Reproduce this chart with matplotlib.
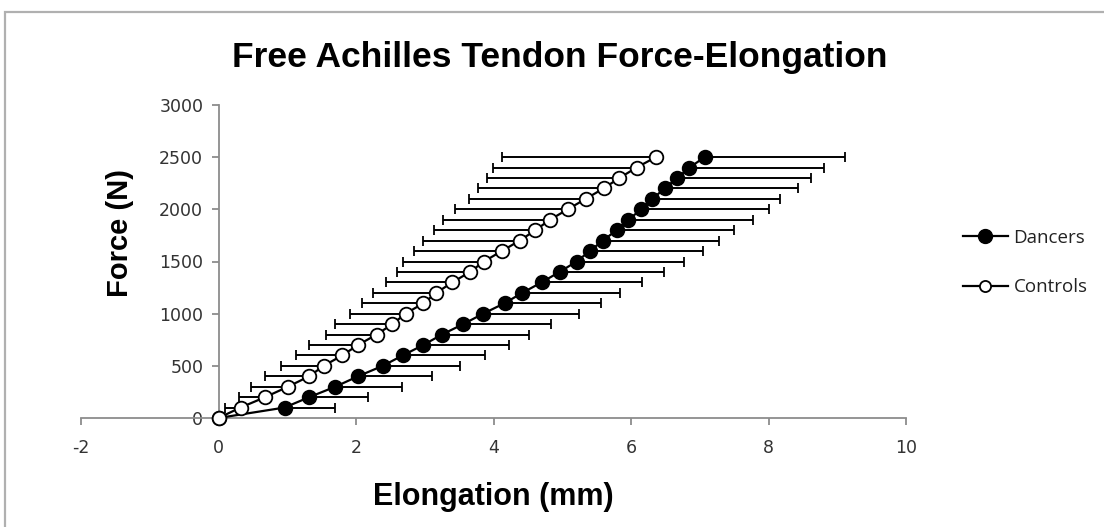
import matplotlib
matplotlib.use('Agg')
import matplotlib.pyplot as plt
from matplotlib.lines import Line2D
from matplotlib.patches import Rectangle

# Force steps (N) shared by both groups
force = [0, 100, 200, 300, 400, 500, 600, 700, 800, 900, 1000, 1100, 1200,
         1300, 1400, 1500, 1600, 1700, 1800, 1900, 2000, 2100, 2200, 2300,
         2400, 2500]

# Mean elongation (mm) and SD for dancers (SD drawn on the right side)
dancers_elong = [0, 0.96, 1.32, 1.70, 2.03, 2.39, 2.68, 2.98, 3.25, 3.56,
                 3.85, 4.16, 4.42, 4.70, 4.96, 5.21, 5.40, 5.59, 5.79, 5.96,
                 6.15, 6.31, 6.49, 6.67, 6.85, 7.07]
dancers_sd = [0, 0.73, 0.85, 0.97, 1.08, 1.12, 1.19, 1.24, 1.27, 1.28,
              1.39, 1.41, 1.42, 1.46, 1.52, 1.56, 1.64, 1.69, 1.71, 1.82,
              1.85, 1.85, 1.94, 1.95, 1.96, 2.04]

# Mean elongation (mm) and SD for controls (SD drawn on the left side)
controls_elong = [0, 0.32, 0.68, 1.01, 1.32, 1.53, 1.80, 2.03, 2.30, 2.53,
                  2.72, 2.98, 3.17, 3.40, 3.66, 3.86, 4.12, 4.38, 4.61, 4.82,
                  5.08, 5.34, 5.60, 5.83, 6.08, 6.36]
controls_sd = [0, 0.22, 0.38, 0.54, 0.64, 0.62, 0.68, 0.71, 0.73, 0.83,
               0.81, 0.89, 0.92, 0.97, 1.07, 1.17, 1.27, 1.40, 1.47, 1.55,
               1.64, 1.70, 1.83, 1.93, 2.09, 2.23]

x_ticks = [-2, 0, 2, 4, 6, 8, 10]
y_ticks = [0, 500, 1000, 1500, 2000, 2500, 3000]


def main():
    plt.rcParams['axes.unicode_minus'] = False

    fig = plt.figure(figsize=(11.04, 5.27), dpi=100)
    ax = fig.add_axes([81 / 1104, 109 / 527, 825 / 1104, 313 / 527])

    # outer chart frame (runs off the right and bottom edge)
    fig.patches.append(Rectangle((4.5 / 1104, -0.2), 1.2, 1.2 - 11.5 / 527,
                                 transform=fig.transFigure, fill=False,
                                 edgecolor='#b0b0b0', linewidth=1.6))

    marker_kw = dict(marker='o', markersize=9.8, markeredgecolor='black',
                     markeredgewidth=1.3, color='black', linewidth=1.6,
                     clip_on=False)
    err_kw = dict(ecolor='black', elinewidth=1.4, capsize=3.6, capthick=1.4)

    # Dancers: errors to the right
    ax.errorbar(dancers_elong, force,
                xerr=[[0] * len(dancers_sd), dancers_sd],
                markerfacecolor='black', zorder=3, **marker_kw, **err_kw)
    # Controls: errors to the left
    ax.errorbar(controls_elong, force,
                xerr=[controls_sd, [0] * len(controls_sd)],
                markerfacecolor='white', zorder=4, **marker_kw, **err_kw)

    ax.set_xlim(-2, 10)
    ax.set_ylim(0, 3000)
    ax.set_xticks(x_ticks)
    ax.set_yticks(y_ticks)

    ax.spines['left'].set_position(('data', 0))
    ax.spines['top'].set_visible(False)
    ax.spines['right'].set_visible(False)
    for s in ('left', 'bottom'):
        ax.spines[s].set_color('#8c8c8c')
        ax.spines[s].set_linewidth(1.3)
    ax.tick_params(axis='both', direction='out', length=5, width=1.3,
                   color='#8c8c8c', labelsize=12.5, labelcolor='#333333')
    ax.tick_params(axis='x', pad=10)
    ax.tick_params(axis='y', pad=6)

    fig.text(560 / 1104, 1 - 58 / 527, 'Free Achilles Tendon Force-Elongation',
             ha='center', va='center', fontsize=25.5, fontweight='bold',
             family='Liberation Sans')
    fig.text(493 / 1104, 1 - 497 / 527, 'Elongation (mm)', ha='center',
             va='center', fontsize=22, fontweight='bold',
             family='Liberation Sans')
    fig.text(120 / 1104, 1 - 233 / 527, 'Force (N)', ha='center',
             va='center', rotation=90, fontsize=21, fontweight='bold',
             family='Liberation Sans')

    handles = [
        Line2D([], [], marker='o', markersize=10, color='black',
               markerfacecolor='black', markeredgecolor='black',
               linewidth=1.6),
        Line2D([], [], marker='o', markersize=8, color='black',
               markerfacecolor='white', markeredgecolor='black',
               markeredgewidth=1.3, linewidth=1.6),
    ]
    ax.legend(handles, ['Dancers', 'Controls'], loc='center left',
              bbox_to_anchor=(946 / 1104, 1 - 262.5 / 527),
              bbox_transform=fig.transFigure, frameon=False,
              prop={'family': 'Open Sans', 'size': 13.5},
              handlelength=2.4, handletextpad=0.3, labelspacing=1.7,
              labelcolor='#222222')

    fig.savefig('out.png', dpi=100)


if __name__ == '__main__':
    main()
